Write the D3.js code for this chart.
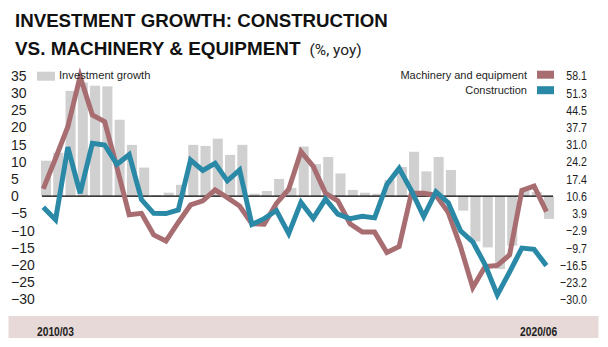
<!DOCTYPE html>
<html>
<head>
<meta charset="utf-8">
<script src="https://cdn.jsdelivr.net/npm/d3@7"></script>
<style>
  html, body { margin: 0; padding: 0; background: #fff; }
  svg { display: block; }
</style>
</head>
<body>
<svg id="chart" width="608" height="347"></svg>
<script>
// Quarterly periods, 2010Q1 .. 2020Q2
const periods = d3.range(42).map(i => {
  const y = 2010 + Math.floor(i / 4);
  const m = ["03", "06", "09", "12"][i % 4];
  return y + "/" + m;
});

// Total investment growth, % yoy (left axis)
const investmentGrowth = [
  10.3, 12.6, 30.6, 33.0, 32.1, 31.9, 22.2, 14.9, 8.3, 0.3,
  1.0, 3.3, 14.9, 14.6, 16.7, 12.0, 14.9, 0.7, 1.5, 5.0,
  2.4, 14.4, 9.3, 11.4, 6.6, 1.8, 1.0, 0.7, 4.7, 8.5,
  12.9, 7.2, 11.4, 7.6, -4.2, -13.2, -14.9, -21.2, -14.4, 1.5,
  1.2, -6.6
];

// Machinery and equipment, % yoy (right axis)
const machinery = [
  13.5, 25.6, 38.0, 57.8, 42.6, 40.0, 22.0, 3.3, 3.9, -4.6,
  -7.0, 0.3, 7.2, 8.8, 13.1, 10.1, 6.8, -0.2, -0.4, 7.8,
  13.4, 28.2, 22.4, 11.8, 8.8, -0.2, -3.5, -3.5, -11.5, -9.2,
  11.8, 11.8, 11.0, 4.3, -9.2, -25.3, -17.1, -16.6, -12.5, 12.9,
  14.6, 4.6
];

// Construction, % yoy (right axis)
const construction = [
  6.3, 1.4, 30.0, 11.8, 31.5, 30.8, 23.2, 27.0, 9.3, 3.9,
  3.8, 5.2, 24.9, 20.8, 23.6, 16.7, 21.0, -0.5, 1.8, 5.0,
  -4.1, 8.2, 1.9, 9.5, 3.6, 1.8, 2.7, 2.1, 15.3, 21.6,
  12.8, 2.6, 12.4, 8.1, -3.0, -7.3, -16.3, -28.2, -19.2, -9.8,
  -10.3, -16.7
];

const leftTicks = [35, 30, 25, 20, 15, 10, 5, 0, -5, -10, -15, -20, -25, -30];
const rightTicks = [58.1, 51.3, 44.5, 37.7, 31.0, 24.2, 17.4, 10.6, 3.9, -2.9, -9.7, -16.5, -23.2, -30.0];
const dateLabels = ["2010/03", "2020/06"];

const colors = {
  bar: "#d0d0d0",
  machinery: "#a86d71",
  construction: "#2a89a7",
  band: "#e6d9d7",
  text: "#1e1e1e"
};

const svg = d3.select("#chart");

const plotTop = 75.7, plotBottom = 299.4;

const x = d3.scaleBand()
  .domain(periods)
  .range([39.9, 555.2])
  .paddingInner(0.18)
  .paddingOuter(0.09);

const xLine = d3.scalePoint()
  .domain(periods)
  .range([43.3, 546.4]);

const yLeft = d3.scaleLinear().domain([-30, 35]).range([plotBottom, plotTop]);
const yRight = d3.scaleLinear().domain([-30, 58.1]).range([plotBottom, plotTop]);

// Title
const title = svg.append("g").attr("fill", "#111");
title.append("text")
  .attr("x", 15).attr("y", 26.7)
  .style("font", "bold 18.7px 'Liberation Sans', Arial, sans-serif")
  .text("INVESTMENT GROWTH: CONSTRUCTION");
const t2 = title.append("text")
  .attr("x", 15).attr("y", 55)
  .style("font", "bold 18.9px 'Liberation Sans', Arial, sans-serif");
t2.append("tspan").text("VS. MACHINERY & EQUIPMENT");
t2.append("tspan")
  .attr("dx", 9)
  .style("font", "15.5px Roboto, 'Liberation Sans', sans-serif")
  .attr("fill", "#222")
  .text("(%, yoy)");

// Bottom band with period labels
svg.append("rect")
  .attr("x", 8.5).attr("y", 316)
  .attr("width", 590).attr("height", 22)
  .attr("fill", colors.band);

svg.append("g")
  .selectAll("text")
  .data(dateLabels)
  .join("text")
  .attr("x", (d, i) => i === 0 ? x(periods[0]) - 4 : x(periods[periods.length - 1]) + x.bandwidth() + 3)
  .attr("y", 336)
  .attr("text-anchor", (d, i) => i === 0 ? "start" : "end")
  .attr("textLength", 37)
  .attr("lengthAdjust", "spacingAndGlyphs")
  .attr("fill", colors.text)
  .style("font", "bold 12px 'Liberation Sans', Arial, sans-serif")
  .text(d => d);

// Bars: total investment growth
svg.append("g")
  .selectAll("rect")
  .data(investmentGrowth)
  .join("rect")
  .attr("x", (d, i) => x(periods[i]))
  .attr("width", x.bandwidth())
  .attr("y", d => yLeft(Math.max(0, d)))
  .attr("height", d => Math.abs(yLeft(d) - yLeft(0)))
  .attr("fill", colors.bar);

// Zero line
svg.append("line")
  .attr("x1", 42).attr("x2", 553)
  .attr("y1", yLeft(0)).attr("y2", yLeft(0))
  .attr("stroke", "#000")
  .attr("stroke-width", 1.2);

// Lines
const line = d3.line()
  .x((d, i) => xLine(periods[i]))
  .y(d => yRight(d));

svg.append("path")
  .datum(machinery)
  .attr("d", line)
  .attr("fill", "none")
  .attr("stroke", colors.machinery)
  .attr("stroke-width", 5);

svg.append("path")
  .datum(construction)
  .attr("d", line)
  .attr("fill", "none")
  .attr("stroke", colors.construction)
  .attr("stroke-width", 5);

// Left axis (investment growth)
const axL = svg.append("g")
  .attr("transform", "translate(11,0)")
  .call(d3.axisLeft(yLeft).tickValues(leftTicks).tickSize(0).tickPadding(0));
axL.select(".domain").remove();
axL.selectAll("text")
  .attr("x", 0)
  .attr("text-anchor", "start")
  .attr("fill", colors.text)
  .style("font", "14px 'Liberation Sans', Arial, sans-serif");

// Right axis (component growth), narrow lettering
const axR = svg.append("g")
  .attr("transform", "translate(587,0)")
  .call(d3.axisLeft(yRight).tickValues(rightTicks).tickFormat(d3.format(".1f")).tickSize(0).tickPadding(0));
axR.select(".domain").remove();
axR.selectAll("text")
  .attr("x", 0)
  .attr("text-anchor", "end")
  .attr("transform", "scale(0.82,1)")
  .attr("fill", colors.text)
  .style("font", "13px 'Liberation Sans', Arial, sans-serif");

// Legends
const legendFont = "11px 'Liberation Sans', Arial, sans-serif";
svg.append("rect")
  .attr("x", 37).attr("y", 71.7).attr("width", 18).attr("height", 9)
  .attr("fill", colors.bar);
svg.append("text")
  .attr("x", 59).attr("y", 79.4)
  .attr("fill", colors.text)
  .style("font", "11.2px 'Liberation Sans', Arial, sans-serif")
  .text("Investment growth");

const rightLegend = [
  { label: "Machinery and equipment", color: colors.machinery },
  { label: "Construction", color: colors.construction }
];
const lg = svg.append("g")
  .selectAll("g")
  .data(rightLegend)
  .join("g")
  .attr("transform", (d, i) => `translate(0,${i * 15.5})`);
lg.append("rect")
  .attr("x", 537).attr("y", 70.7).attr("width", 17).attr("height", 8)
  .attr("fill", d => d.color);
lg.append("text")
  .attr("x", 527).attr("y", 78.5)
  .attr("text-anchor", "end")
  .attr("fill", colors.text)
  .style("font", legendFont)
  .text(d => d.label);
</script>
</body>
</html>
